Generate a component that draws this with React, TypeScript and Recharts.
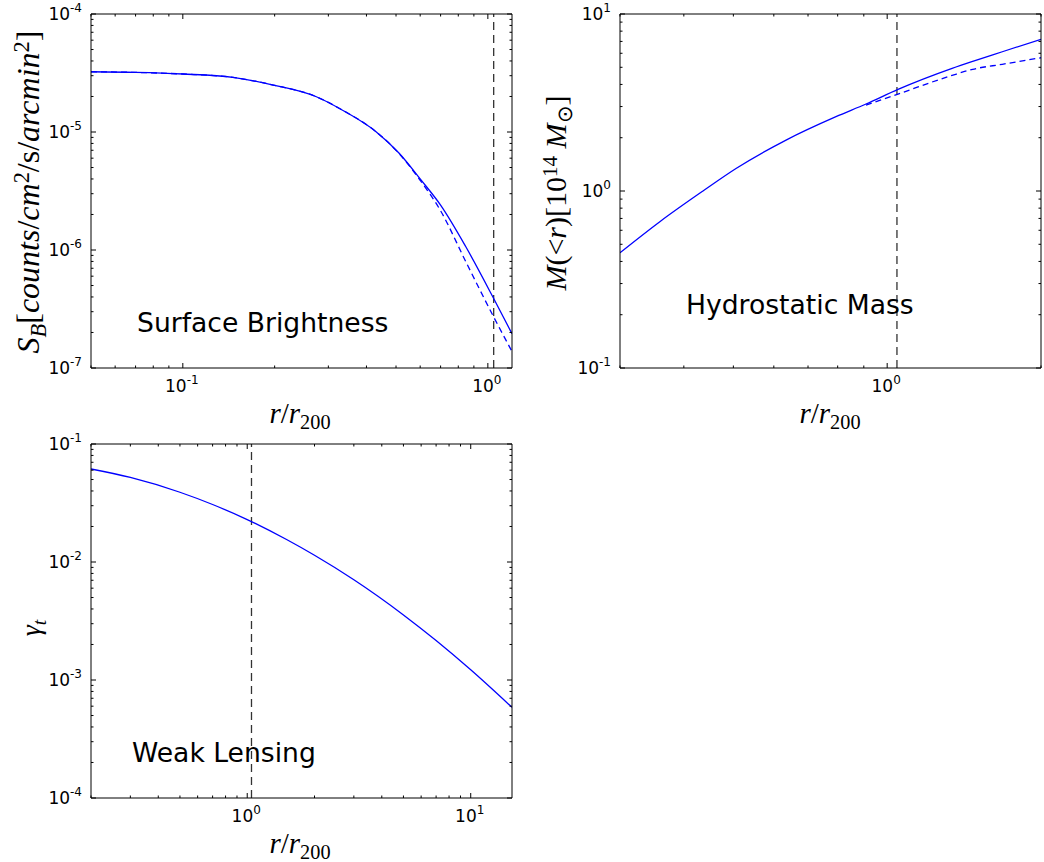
import React from "react";
import { LineChart, Line, XAxis, YAxis, ReferenceLine } from "recharts";

// Surface brightness panel
const sbR = [0.05, 0.07, 0.1, 0.146, 0.198, 0.274, 0.334, 0.43, 0.512, 0.6, 0.7, 0.846, 1.044, 1.2];
const sbModel = [3.24e-5, 3.2e-5, 3.1e-5, 2.9e-5, 2.5e-5, 1.99e-5, 1.53e-5, 1.006e-5, 6.6e-6, 4.0e-6, 2.4e-6, 1.07e-6, 3.9e-7, 1.95e-7];
const sbObs = [3.24e-5, 3.2e-5, 3.1e-5, 2.9e-5, 2.5e-5, 1.99e-5, 1.53e-5, 1.006e-5, 6.55e-6, 3.9e-6, 2.15e-6, 8.0e-7, 2.72e-7, 1.38e-7];

// Hydrostatic mass panel
const hmR = [0.3, 0.359, 0.436, 0.506, 0.634, 0.794, 0.909, 1.05, 1.34, 1.47, 1.68, 2.0];
const hmModel = [0.448, 0.671, 1.0, 1.34, 1.94, 2.63, 3.1, 3.75, 4.93, 5.4, 6.12, 7.2];
const hmObs = [null, null, null, null, null, null, 3.06, 3.53, 4.5, 4.87, 5.2, 5.66];

// Weak lensing panel
const wlR = [0.2, 0.3, 0.5, 0.7, 1.0, 1.5, 2, 3, 5, 7, 10, 15.3];
const wlShear = [0.0614, 0.0521, 0.039, 0.0307, 0.0229, 0.0155, 0.0114, 0.00707, 0.00356, 0.00216, 0.00122, 0.000586];

const r200Line = 1.045;

const sbXTicks = [0.05, 0.06, 0.07, 0.08, 0.09, 0.1, 0.2, 0.3, 0.4, 0.5, 0.6, 0.7, 0.8, 0.9, 1];
const sbYTicks = [1e-7, 2e-7, 3e-7, 4e-7, 5e-7, 6e-7, 7e-7, 8e-7, 9e-7, 1e-6, 2e-6, 3e-6, 4e-6, 5e-6, 6e-6, 7e-6, 8e-6, 9e-6, 1e-5, 2e-5, 3e-5, 4e-5, 5e-5, 6e-5, 7e-5, 8e-5, 9e-5, 1e-4];
const hmXTicks = [0.3, 0.4, 0.5, 0.6, 0.7, 0.8, 0.9, 1, 2];
const hmYTicks = [0.1, 0.2, 0.3, 0.4, 0.5, 0.6, 0.7, 0.8, 0.9, 1, 2, 3, 4, 5, 6, 7, 8, 9, 10];
const wlXTicks = [0.2, 0.3, 0.4, 0.5, 0.6, 0.7, 0.8, 0.9, 1, 2, 3, 4, 5, 6, 7, 8, 9, 10];
const wlYTicks = [1e-4, 2e-4, 3e-4, 4e-4, 5e-4, 6e-4, 7e-4, 8e-4, 9e-4, 1e-3, 2e-3, 3e-3, 4e-3, 5e-3, 6e-3, 7e-3, 8e-3, 9e-3, 1e-2, 2e-2, 3e-2, 4e-2, 5e-2, 6e-2, 7e-2, 8e-2, 9e-2, 1e-1];

const BLUE = "#0000ff";
const SANS = "'DejaVu Sans', sans-serif";
const MATH = "'Liberation Serif', serif";

const isMajor = (v: number) => Math.abs(Math.log10(v) - Math.round(Math.log10(v))) < 1e-6;
const expOf = (v: number) => Math.round(Math.log10(v));

function PowLabel({ x, y, v, anchor }: any) {
  return (
    <text x={x} y={y} textAnchor={anchor} fontFamily={SANS} fontSize={17} fill="#000">
      10
      <tspan fontSize={12} dy={-8}>{expOf(v)}</tspan>
    </text>
  );
}

function XTick(props: any) {
  const { x, y, payload, side } = props;
  const v = payload.value;
  const major = isMajor(v);
  const len = major ? 5 : 2.5;
  const dir = side === "bottom" ? -1 : 1;
  return (
    <g>
      <line x1={x} x2={x} y1={y} y2={y + dir * len} stroke="#000" strokeWidth={1} />
      {major && side === "bottom" && <PowLabel x={x - 1} y={y + 24} v={v} anchor="middle" />}
    </g>
  );
}

function YTick(props: any) {
  const { x, y, payload, side } = props;
  const v = payload.value;
  const major = isMajor(v);
  const len = major ? 5 : 2.5;
  const dir = side === "left" ? 1 : -1;
  return (
    <g>
      <line x1={x} x2={x + dir * len} y1={y} y2={y} stroke="#000" strokeWidth={1} />
      {major && side === "left" && <PowLabel x={x - 9} y={y + 6} v={v} anchor="end" />}
    </g>
  );
}

function Panel({ data, xDomain, yDomain, xTicks, yTicks, width, height, plot, dashedKey }: any) {
  // plot = {left, right, top, bottom}: space outside the plotting frame, taken by the axes
  const axisLine = { stroke: "#000", strokeWidth: 1 };
  return (
    <LineChart width={width} height={height} data={data} margin={{ top: 0, right: 0, bottom: 0, left: 0 }}>
      <XAxis dataKey="r" type="number" scale="log" domain={xDomain} allowDataOverflow ticks={xTicks} interval={0}
        height={plot.bottom} tickSize={0} tickMargin={0} tickLine={false} axisLine={axisLine}
        tick={(p: any) => <XTick {...p} side="bottom" />} />
      <XAxis xAxisId="top" orientation="top" dataKey="r" type="number" scale="log" domain={xDomain} allowDataOverflow ticks={xTicks} interval={0}
        height={plot.top} tickSize={0} tickMargin={0} tickLine={false} axisLine={axisLine}
        tick={(p: any) => <XTick {...p} side="top" />} />
      <YAxis type="number" scale="log" domain={yDomain} allowDataOverflow ticks={yTicks} interval={0}
        width={plot.left} tickSize={0} tickMargin={0} tickLine={false} axisLine={axisLine}
        tick={(p: any) => <YTick {...p} side="left" />} />
      <YAxis yAxisId="right" orientation="right" type="number" scale="log" domain={yDomain} allowDataOverflow ticks={yTicks} interval={0}
        width={plot.right} tickSize={0} tickMargin={0} tickLine={false} axisLine={axisLine}
        tick={(p: any) => <YTick {...p} side="right" />} />
      <ReferenceLine x={r200Line} stroke="#333" strokeWidth={1.3} strokeDasharray="8 5" />
      <Line dataKey="model" type="monotone" stroke={BLUE} strokeWidth={1.3} dot={false} isAnimationActive={false} />
      {dashedKey && (
        <Line dataKey={dashedKey} type="monotone" stroke={BLUE} strokeWidth={1.3} strokeDasharray="6 4" dot={false} isAnimationActive={false} />
      )}
    </LineChart>
  );
}

const abs = (left: number, top: number): React.CSSProperties => ({ position: "absolute", left, top });

function Note({ left, top, children }: any) {
  return (
    <div style={{ ...abs(left, top), fontFamily: SANS, fontSize: 26.6, lineHeight: "30px", whiteSpace: "nowrap", color: "#000" }}>
      {children}
    </div>
  );
}

function MathLabel({ cx, cy, rotate, size, children }: any) {
  return (
    <div style={{
      position: "absolute", left: cx, top: cy, transform: `translate(-50%, -50%)${rotate ? " rotate(-90deg)" : ""}`,
      fontFamily: MATH, fontSize: size, lineHeight: "1", whiteSpace: "nowrap", color: "#000",
    }}>
      {children}
    </div>
  );
}

const sub = (t: string, italic = false) => (
  <span style={{ fontSize: "0.7em", position: "relative", top: "0.3em", fontStyle: italic ? "italic" : "normal" }}>{t}</span>
);
const sup = (t: string) => (
  <span style={{ fontSize: "0.7em", position: "relative", top: "-0.45em" }}>{t}</span>
);
const it = (t: string) => <i>{t}</i>;

function RLabel() {
  return <span>{it("r")}/{it("r")}{sub("200")}</span>;
}

export default function App() {
  const sbData = sbR.map((r, i) => ({ r, model: sbModel[i], obs: sbObs[i] }));
  const hmData = hmR.map((r, i) => ({ r, model: hmModel[i], obs: hmObs[i] }));
  const wlData = wlR.map((r, i) => ({ r, model: wlShear[i] }));

  return (
    <div style={{ position: "absolute", left: 0, top: 0, width: 1044, height: 862, background: "#fff", overflow: "hidden" }}>
      <div style={abs(0, 0)}>
        <Panel data={sbData} xDomain={[0.05, 1.2]} yDomain={[1e-7, 1e-4]} xTicks={sbXTicks} yTicks={sbYTicks}
          width={522} height={430} plot={{ top: 14, right: 10, bottom: 62, left: 91 }} dashedKey="obs" />
      </div>
      <div style={abs(522, 0)}>
        <Panel data={hmData} xDomain={[0.3, 2.0]} yDomain={[0.1, 10]} xTicks={hmXTicks} yTicks={hmYTicks}
          width={522} height={430} plot={{ top: 14, right: 3, bottom: 62, left: 98 }} dashedKey="obs" />
      </div>
      <div style={abs(0, 430)}>
        <Panel data={wlData} xDomain={[0.2, 15.3]} yDomain={[1e-4, 0.1]} xTicks={wlXTicks} yTicks={wlYTicks}
          width={522} height={432} plot={{ top: 14, right: 10, bottom: 64, left: 91 }} />
      </div>

      <Note left={137} top={308}>Surface Brightness</Note>
      <Note left={686} top={290}>Hydrostatic Mass</Note>
      <Note left={132} top={738}>Weak Lensing</Note>

      <MathLabel cx={300} cy={413} size={29}><RLabel /></MathLabel>
      <MathLabel cx={830} cy={413} size={29}><RLabel /></MathLabel>
      <MathLabel cx={300} cy={843} size={29}><RLabel /></MathLabel>

      <MathLabel cx={28} cy={192} rotate size={32}>
        {it("S")}{sub("B", true)}[{it("counts")}/{it("cm")}{sup("2")}/s/{it("arcmin")}{sup("2")}]
      </MathLabel>
      <MathLabel cx={556} cy={193} rotate size={30}>
        {it("M")}(&lt;{it("r")})[10{sup("14")}{" "}{it("M")}{sub("\u2299")}]
      </MathLabel>
      <MathLabel cx={31} cy={628} rotate size={28}>
        {it("\u03b3")}{sub("t", true)}
      </MathLabel>
    </div>
  );
}
